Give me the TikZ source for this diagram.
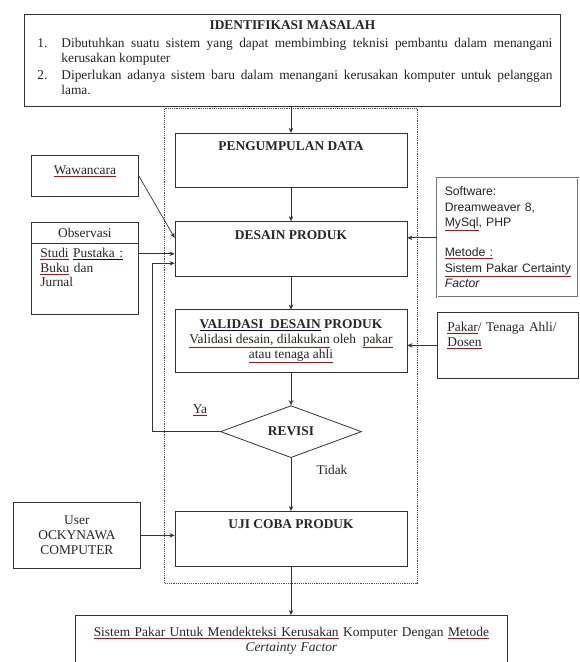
\documentclass[tikz,border=0pt]{standalone}
\usepackage{xcolor}
\usepackage{fontspec}
\usepackage{tikz}
\usetikzlibrary{shapes.geometric, arrows.meta, positioning}

\setmainfont{Liberation Serif}
\newfontfamily\arialfont{Liberation Sans}
\newcommand\diafont{\fontsize{13.4pt}{14.8pt}\selectfont}
% spell-check style underlines
\newcommand\spl[1]{\textcolor{red!85!black}{\underline{\textcolor{black!85}{#1}}}}
\newcommand\gram[1]{\textcolor{blue!70!black}{\underline{\textcolor{black!85}{#1}}}}

\begin{document}
\begin{tikzpicture}[
  x=1pt, y=1pt,
  box/.style={draw=black!80, line width=0.8pt, text=black!85, inner sep=5pt, font=\diafont},
  stage/.style={box, minimum width=232pt, text height=12.5pt, text depth=32pt, font=\diafont\bfseries},
  side/.style={box},
  frame/.style={draw=black!70, densely dotted, line width=1.2pt, inner sep=0pt},
  lbl/.style={text=black!85, font=\diafont, inner sep=1pt},
  arr/.style={-{Stealth[length=5pt, width=4.5pt]}, draw=black!80, line width=0.7pt}
]
  \useasboundingbox (0,0) rectangle (579,662);

  % Problem statement
  \node[box, anchor=north west, text width=520pt, inner xsep=8pt, align=justify,
        text height=10.5pt, text depth=71.5pt] (ident) at (24,648) {%
    {\centering\bfseries IDENTIFIKASI MASALAH\par}\vspace{3pt}
    \hangindent=29pt\hangafter=1\noindent\makebox[29pt][l]{\hspace{5pt}1.}Dibutuhkan suatu sistem yang dapat membimbing teknisi pembantu dalam menangani\linebreak kerusakan komputer\par\vspace{2pt}
    \hangindent=29pt\hangafter=1\noindent\makebox[29pt][l]{\hspace{5pt}2.}Diperlukan adanya sistem baru dalam menangani kerusakan komputer untuk pelanggan\linebreak lama.\par};

  % Dotted frame round the main steps
  \node[frame, anchor=north west, minimum width=253pt, minimum height=475pt] (frame) at (164,554) {};

  % Main steps
  \node[stage] (kumpul) at (291,501.5) {PENGUMPULAN DATA};
  \node[stage, below=33pt of kumpul] (desain) {DESAIN PRODUK};
  \node[box, below=33pt of desain, minimum width=232pt, minimum height=63pt, align=center] (validasi)
    {\textbf{\gram{VALIDASI\ \ DESAIN} PRODUK}\\ \spl{Validasi desain, dilakukan} oleh\ \ \spl{pakar}\\ \spl{atau tenaga ahli}};
  \node[box, diamond, aspect=2.7, inner sep=0pt, minimum width=141pt, minimum height=52pt,
        below=32pt of validasi, font=\diafont\bfseries] (revisi) {REVISI};
  \node[stage, below=53pt of revisi] (uji) {UJI COBA PRODUK};

  % Inputs on the left
  \node[side, anchor=north west, minimum width=107pt, text height=14.5pt, text depth=16.5pt] (wawancara) at (31,507) {\spl{Wawancara}};
  \node[side, anchor=north west, text width=89pt, inner xsep=9pt, align=left,
        text height=30pt, text depth=52pt] (observasi) at (31,440) {\spl{Studi} \gram{Pustaka :}\\ \spl{Buku} dan\\ Jurnal};
  \node[side, anchor=north, minimum width=107pt, minimum height=21pt, inner sep=0pt] (obshead) at (observasi.north) {Observasi};
  \node[side, anchor=north west, minimum width=127pt, minimum height=66pt, align=center] (user) at (13,160) {User\\ OCKYNAWA\\ COMPUTER};

  % Inputs on the right
  \node[side, anchor=north west, text width=126pt, inner xsep=7.5pt, align=left,
        draw=black!55, line width=0.6pt, double, double distance=0.7pt,
        text height=12.5pt, text depth=96.5pt, font=\arialfont\fontsize{12.2pt}{15.3pt}\selectfont] (software) at (437,484)
    {Software:\\ Dreamweaver 8,\\ \spl{MySql}, PHP\\ ~\\ \spl{Metode :}\\ \spl{Sistem Pakar Certainty}\\ \textit{Factor}};
  \node[side, anchor=north west, text width=121pt, inner xsep=10pt, align=left,
        text height=14.5pt, text depth=41.5pt] (pakar) at (437,350) {\spl{Pakar}/ Tenaga Ahli/\\ \spl{Dosen}};

  % Result
  \node[box, anchor=north west, text width=422pt, align=center, text height=16.5pt, text depth=23.5pt] (hasil) at (75,47)
    {\spl{Sistem Pakar Untuk Mendekteksi Kerusakan} Komputer Dengan \spl{Metode}\\ \textit{Certainty Factor}};

  % Labels
  \node[lbl] (ya) at (200,252) {\spl{Ya}};
  \node[lbl] (tidak) at (332,192) {Tidak};

  % Arrows
  \coordinate (wawin) at ([yshift=11pt]desain.west);
  \coordinate (obsin) at ([yshift=-5pt]desain.west);
  \coordinate (fbin) at ([yshift=-14.5pt]desain.west);
  \draw[arr] (ident.south -| kumpul.north) -- (kumpul.north);
  \draw[arr] (kumpul) -- (desain);
  \draw[arr] (desain) -- (validasi);
  \draw[arr] (validasi) -- (revisi);
  \draw[arr] (revisi) -- (uji);
  \draw[arr] (uji) -- (hasil.north -| uji.south);
  \draw[arr] (wawancara.east) -- (wawin);
  \draw[arr] (observasi.east |- obsin) -- (obsin);
  \draw[arr] (revisi.west) -- ++(-68pt,0) |- (fbin);
  \draw[arr] (software.west) -- (software.west -| desain.east);
  \draw[arr] (pakar.west) -- (pakar.west -| validasi.east);
  \draw[arr] (user.east) -- (user.east -| uji.west);

\end{tikzpicture}
\end{document}
